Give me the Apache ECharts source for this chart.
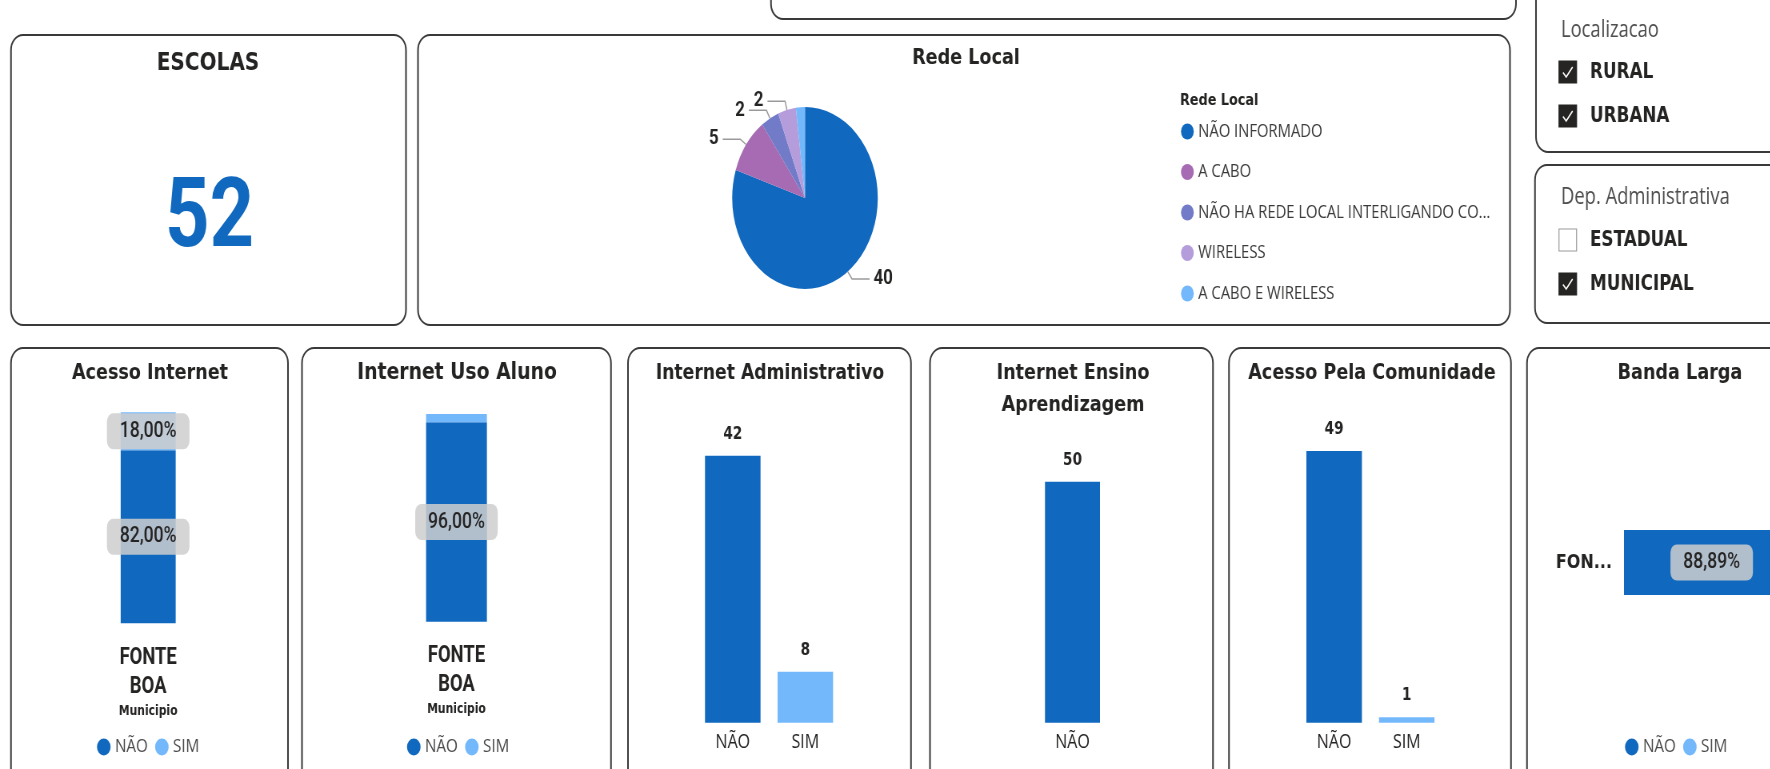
<!DOCTYPE html>
<html><head><meta charset="utf-8">
<script src="https://cdn.jsdelivr.net/npm/echarts@6/dist/echarts.min.js"></script>
<style>
html,body{margin:0;padding:0;width:1770px;height:769px;overflow:hidden;background:#fff;}
#c{position:absolute;left:0;top:0;width:2320px;height:769px;transform:scaleX(0.8);transform-origin:0 0;}
</style></head><body><div id="c"></div>
<script>
// ---------- DATA ----------
const escolasTotal = 52;
const redeLocalCategories = ['NÃO INFORMADO', 'A CABO', 'NÃO HA REDE LOCAL INTERLIGANDO COMPUTADORES', 'WIRELESS', 'A CABO E WIRELESS'];
const redeLocalValues = [40, 5, 2, 2, 1];
const simNaoCategories = ['NÃO', 'SIM'];
const municipioCategories = ['FONTE BOA'];
const acessoInternetNao = [82];
const acessoInternetSim = [18];
const usoAlunoNao = [96];
const usoAlunoSim = [4];
const administrativoValues = [42, 8];
const ensinoCategories = ['NÃO'];
const ensinoValues = [50];
const comunidadeValues = [49, 1];
const bandaLargaNao = [88.89];
const bandaLargaSim = [11.11];
const localizacaoOptions = ['RURAL', 'URBANA'];
const localizacaoChecked = [true, true];
const depAdminOptions = ['ESTADUAL', 'MUNICIPAL'];
const depAdminChecked = [false, true];

// ---------- STYLE / LAYOUT ----------
const S = 0.8, W = 2320, H = 769;
const X = v => v / S;
const DARK = '#1169BF', LIGHT = '#74B8FC', INK = '#252423';
const pieColors = ['#1169BF', '#A66BB2', '#717BC8', '#B59DDC', '#74B8FC'];
const catColor = c => (c === 'SIM' ? LIGHT : DARK);
const fmtPct = v => v.toFixed(2).replace('.', ',') + '%';

const g = [];
function box(x1, y1, x2, y2) {
  g.push({type: 'rect', z: -10, silent: true,
    shape: {x: X(x1), y: y1, width: X(x2) - X(x1), height: y2 - y1, r: 15},
    style: {fill: '#fff', stroke: '#3a3a3a', lineWidth: 2}});
}
function txt(str, x, y, font, opt) {
  opt = opt || {};
  g.push({type: 'text', z: 5, silent: true,
    style: {text: str, x: X(x), y: y, font: font, fill: opt.fill || INK,
      align: opt.align || 'center', textAlign: opt.align || 'center',
      verticalAlign: 'middle', textVerticalAlign: 'middle', lineHeight: opt.lineHeight}});
}
function checkbox(x, y, checked) {
  const bx = X(x);
  g.push({type: 'rect', z: 5, silent: true, shape: {x: bx, y: y, width: 22, height: 22},
    style: {fill: checked ? INK : '#fff', stroke: checked ? INK : '#9a9a9a', lineWidth: 1.2}});
  if (checked) {
    g.push({type: 'polyline', z: 6, silent: true,
      shape: {points: [[bx + 5, y + 11.5], [bx + 9, y + 16], [bx + 17, y + 6]]},
      style: {stroke: '#fff', lineWidth: 1.6, fill: null}});
  }
}

// boxes
box(771, -40, 1516, 19);
box(11, 35, 406, 325);
box(418, 35, 1510, 325);
box(1536, -40, 1800, 152);
box(1535, 165, 1800, 323);
box(11, 348, 288, 800);
box(302, 348, 611, 800);
box(628, 348, 911, 800);
box(930, 348, 1213, 800);
box(1229, 348, 1511, 800);
box(1527, 348, 1800, 800);

const TB = 'bold 22px "DejaVu Sans"';
txt('ESCOLAS', 208, 63, 'bold 25px "DejaVu Sans"');
txt(String(escolasTotal), 209.5, 222, 'bold 97px Roboto', {fill: DARK});
txt('Rede Local', 966, 58, 'bold 22px "DejaVu Sans"');
txt('Rede Local', 1180, 100.5, 'bold 16px "DejaVu Sans"', {align: 'left'});
txt('Acesso Internet', 150, 373, TB);
txt('Internet Uso Aluno', 457, 373, 'bold 23.5px "DejaVu Sans"');
txt('Internet Administrativo', 770, 373, 'bold 21.5px "DejaVu Sans"');
txt('Internet Ensino\nAprendizagem', 1073, 389, TB, {lineHeight: 32});
txt('Acesso Pela Comunidade', 1372, 373, TB);
txt('Banda Larga', 1680, 373, TB);

txt('Localizacao', 1561, 30, '23px "Open Sans"', {align: 'left', fill: '#4d4d4d'});
localizacaoOptions.forEach((o, i) => {
  const yc = [72, 116][i];
  checkbox(1559, yc - 11, localizacaoChecked[i]);
  txt(o, 1590, yc + 1, 'bold 21px "DejaVu Sans"', {align: 'left'});
});
txt('Dep. Administrativa', 1561, 197, '23px "Open Sans"', {align: 'left', fill: '#4d4d4d'});
depAdminOptions.forEach((o, i) => {
  const yc = [240, 284][i];
  checkbox(1559, yc - 11, depAdminChecked[i]);
  txt(o, 1590, yc + 1, 'bold 21px "DejaVu Sans"', {align: 'left'});
});

// ---------- CHART ----------
const pctLabel = {show: true, position: 'inside', formatter: p => fmtPct(p.value),
  fontFamily: 'Roboto', fontWeight: 500, fontSize: 22, color: INK,
  backgroundColor: 'rgba(206,206,206,0.85)', borderRadius: 8, padding: [7, 16]};
const valLabel = {show: true, position: 'top', distance: 13, fontFamily: 'DejaVu Sans',
  fontWeight: 'bold', fontSize: 17, color: INK};
const catAxisLabel = {fontFamily: 'Open Sans', fontSize: 20, color: INK, margin: 10};
const pctData = arr => arr.map(v => ({value: v, label: {show: v >= 15}}));
const catData = (cats, vals) => vals.map((v, i) => ({value: v, itemStyle: {color: catColor(cats[i])}}));

const grids = [
  {left: X(148.2) - 61, top: 412.3, width: 122, height: 211},
  {left: X(456.5) - 61, top: 414, width: 122, height: 207.7},
  {left: X(696.5), top: 404.8, width: X(145.1), height: 317.9},
  {left: X(1036.25), top: 433.5, width: X(72.5), height: 289.2},
  {left: X(1297.85), top: 417.7, width: X(145.2), height: 305},
  {left: X(1624), top: 530, width: 246.7, height: 65}
];
const hidden = {axisLine: {show: false}, axisTick: {show: false}, splitLine: {show: false}};
const muniX = i => Object.assign({type: 'category', gridIndex: i, data: municipioCategories,
  axisLabel: {formatter: v => v.replace(' ', '\n'), fontFamily: 'Roboto', fontWeight: 'bold',
    fontSize: 23, lineHeight: 29, color: INK, margin: 20},
  name: 'Municipio', nameLocation: 'middle', nameGap: 81,
  nameTextStyle: {fontFamily: 'DejaVu Sans', fontWeight: 'bold', fontSize: 13.5, color: INK}}, hidden);

const xAxes = [
  muniX(0), muniX(1),
  Object.assign({type: 'category', gridIndex: 2, data: simNaoCategories, axisLabel: catAxisLabel}, hidden),
  Object.assign({type: 'category', gridIndex: 3, data: ensinoCategories, axisLabel: catAxisLabel}, hidden),
  Object.assign({type: 'category', gridIndex: 4, data: simNaoCategories, axisLabel: catAxisLabel}, hidden),
  {type: 'value', gridIndex: 5, min: 0, max: 100, show: false}
];
const yAxes = [
  {type: 'value', gridIndex: 0, min: 0, max: 100, show: false},
  {type: 'value', gridIndex: 1, min: 0, max: 100, show: false},
  {type: 'value', gridIndex: 2, min: 0, max: 50, show: false},
  {type: 'value', gridIndex: 3, min: 0, max: 60, show: false},
  {type: 'value', gridIndex: 4, min: 0, max: 55, show: false},
  Object.assign({type: 'category', gridIndex: 5, data: municipioCategories,
    axisLabel: {fontFamily: 'DejaVu Sans', fontWeight: 'bold', fontSize: 20, color: INK,
      width: 76, overflow: 'truncate', ellipsis: '...', margin: 15}}, hidden)
];

const legendBase = {data: simNaoCategories, icon: 'circle', itemWidth: 18, itemHeight: 17, itemGap: 9,
  padding: 0, selectedMode: false, top: 737,
  textStyle: {fontFamily: 'Open Sans', fontSize: 19, color: '#4a4a4a', lineHeight: 20}};

const pieTotal = redeLocalValues.reduce((a, b) => a + b, 0);

const option = {
  animation: false,
  backgroundColor: '#fff',
  graphic: {elements: g},
  grid: grids,
  xAxis: xAxes,
  yAxis: yAxes,
  legend: [
    Object.assign({}, legendBase, {left: X(97)}),
    Object.assign({}, legendBase, {left: X(407)}),
    Object.assign({}, legendBase, {left: X(1625)}),
    {data: redeLocalCategories, orient: 'vertical', left: X(1181), top: 121.5, icon: 'circle', padding: 0,
      itemWidth: 17, itemHeight: 16, itemGap: 20.5, selectedMode: false,
      textStyle: {fontFamily: 'Open Sans', fontSize: 18.5, color: '#3b3a39', lineHeight: 20,
        width: 378, overflow: 'truncate', ellipsis: '...'}}
  ],
  series: [
    {type: 'pie', name: 'Rede Local', center: [X(805), 198], radius: 91, startAngle: 90, clockwise: true,
      color: pieColors, avoidLabelOverlap: false,
      data: redeLocalCategories.map((n, i) => {
        const show = redeLocalValues[i] / pieTotal >= 0.03;
        return {name: n, value: redeLocalValues[i], label: {show: show}, labelLine: {show: show}};
      }),
      label: {position: 'outside', formatter: '{c}', fontFamily: 'Roboto', fontWeight: 'bold', fontSize: 21, color: INK},
      labelLine: {length: 9, length2: 22, lineStyle: {color: '#9a9a9a', width: 1.5}},
      itemStyle: {borderWidth: 0}},
    {type: 'bar', name: 'NÃO', stack: 'a', xAxisIndex: 0, yAxisIndex: 0, barWidth: 68.75,
      itemStyle: {color: DARK}, data: pctData(acessoInternetNao), label: pctLabel},
    {type: 'bar', name: 'SIM', stack: 'a', xAxisIndex: 0, yAxisIndex: 0, barWidth: 68.75,
      itemStyle: {color: LIGHT}, data: pctData(acessoInternetSim), label: pctLabel},
    {type: 'bar', name: 'NÃO', stack: 'b', xAxisIndex: 1, yAxisIndex: 1, barWidth: 76,
      itemStyle: {color: DARK}, data: pctData(usoAlunoNao), label: pctLabel},
    {type: 'bar', name: 'SIM', stack: 'b', xAxisIndex: 1, yAxisIndex: 1, barWidth: 76,
      itemStyle: {color: LIGHT}, data: pctData(usoAlunoSim), label: pctLabel},
    {type: 'bar', name: 'Internet Administrativo', xAxisIndex: 2, yAxisIndex: 2, barWidth: 69.4,
      data: catData(simNaoCategories, administrativoValues), label: valLabel},
    {type: 'bar', name: 'Internet Ensino Aprendizagem', xAxisIndex: 3, yAxisIndex: 3, barWidth: 68.75,
      data: catData(ensinoCategories, ensinoValues), label: valLabel},
    {type: 'bar', name: 'Acesso Pela Comunidade', xAxisIndex: 4, yAxisIndex: 4, barWidth: 69.4,
      data: catData(simNaoCategories, comunidadeValues), label: valLabel},
    {type: 'bar', name: 'NÃO', stack: 'c', xAxisIndex: 5, yAxisIndex: 5, barWidth: '100%',
      itemStyle: {color: DARK}, data: pctData(bandaLargaNao), label: pctLabel},
    {type: 'bar', name: 'SIM', stack: 'c', xAxisIndex: 5, yAxisIndex: 5, barWidth: '100%',
      itemStyle: {color: LIGHT}, data: pctData(bandaLargaSim), label: pctLabel}
  ]
};

const chart = echarts.init(document.getElementById('c'), null, {renderer: 'canvas', width: W, height: H});
chart.setOption(option);
</script></body></html>
